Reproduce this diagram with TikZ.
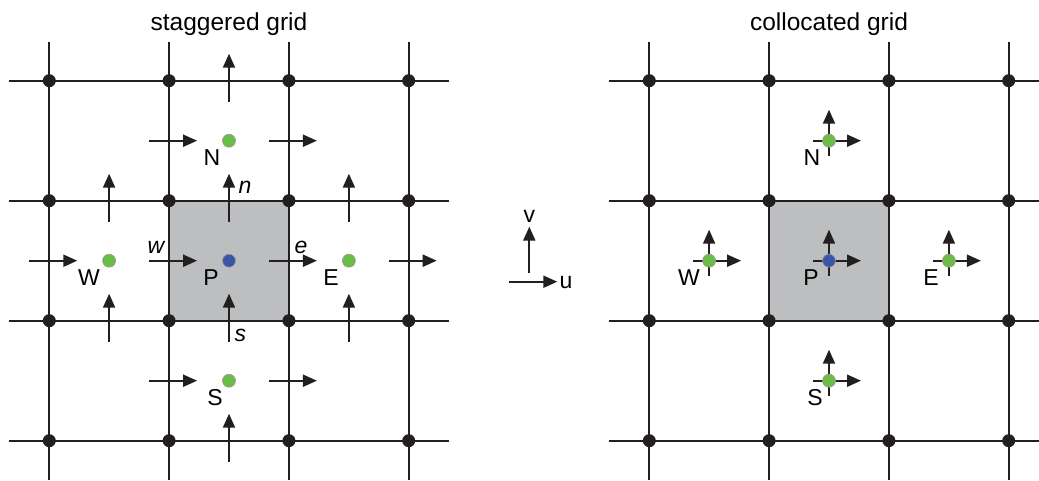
\documentclass[tikz,border=0pt]{standalone}
\usepackage{fontspec}
\setmainfont{Liberation Sans}
\usetikzlibrary{arrows.meta}
\definecolor{ink}{HTML}{231F20}
\definecolor{cellgray}{HTML}{BCBEC0}
\definecolor{ptgreen}{HTML}{6ABD45}
\definecolor{ptblue}{HTML}{3A55A5}
\begin{document}
\begin{tikzpicture}[x=1pt,y=-1pt,
  gridline/.style={ink, line width=2.1pt},
  vec/.style={ink, line width=2pt, -{Triangle[length=14pt,width=12pt]}},
  gnode/.style={circle, fill=ink, inner sep=0pt, minimum size=13pt},
  cpt/.style={circle, draw=black!40, line width=0.6pt, inner sep=0pt, minimum size=13pt},
  lbl/.style={font=\fontsize{23}{27}\selectfont, inner sep=0pt, anchor=base east},
  ilbl/.style={font=\fontsize{23}{27}\selectfont\itshape, inner sep=0pt, anchor=base west},
  ttl/.style={font=\fontsize{24.5}{29}\selectfont, inner sep=0pt, anchor=base}]
\useasboundingbox (0,0) rectangle (1039,480);

% ---------------- titles
\node[ttl] (t1) at (229,30.7) {staggered grid};
\node[ttl] (t2) at (829,30.7) {collocated grid};

% ---------------- staggered grid
\filldraw[fill=cellgray, draw=ink, line width=2.1pt] (169.1,200.7) rectangle (288.9,320.7);
\foreach \i in {0,...,3} {
  \draw[gridline] ({49.3+119.8*\i},41.7) -- ({49.3+119.8*\i},480);
  \draw[gridline] (9.3,{80.7+120*\i}) -- (448.7,{80.7+120*\i});
}
\foreach \i in {0,...,3} \foreach \j in {0,...,3}
  \node[gnode] (sg-\i-\j) at ({49.3+119.8*\i},{80.7+120*\j}) {};

% vertical face arrows (v)
\foreach \x/\f in {229/80.7, 229/200.7, 229/320.7, 229/440.7,
                   109.1/200.7, 109.1/320.7, 348.9/200.7, 348.9/320.7} {
  \coordinate (va) at (\x,{\f+21});
  \coordinate (vb) at (\x,{\f-27});
  \draw[vec] (va) -- (vb);
}
% horizontal face arrows (u)
\foreach \f/\y in {169.1/140.7, 288.9/140.7, 49.3/260.7, 169.1/260.7,
                   288.9/260.7, 408.7/260.7, 169.1/380.7, 288.9/380.7} {
  \coordinate (ha) at ({\f-20},\y);
  \coordinate (hb) at ({\f+28},\y);
  \draw[vec] (ha) -- (hb);
}
% cell centres
\node[cpt, fill=ptgreen] (sN) at (229,140.7) {};
\node[cpt, fill=ptgreen] (sS) at (229,380.7) {};
\node[cpt, fill=ptgreen] (sW) at (109.1,260.7) {};
\node[cpt, fill=ptgreen] (sE) at (348.9,260.7) {};
\node[cpt, fill=ptblue]  (sP) at (229,260.7) {};
\node[lbl] (lsN) at (220.5,165) {N};
\node[lbl] (lsW) at (100,285) {W};
\node[lbl] (lsP) at (219,285) {P};
\node[lbl] (lsE) at (339,285) {E};
\node[lbl] (lsS) at (223,405) {S};
\node[ilbl] (ln) at (238.5,193) {n};
\node[ilbl] (ls) at (234.5,341.7) {s};
\node[ilbl] (lw) at (147.5,253) {w};
\node[ilbl] (le) at (294.5,253) {e};

% ---------------- legend
\coordinate (lv0) at (529.3,273.3);
\coordinate (lv1) at (529.3,226.7);
\coordinate (lu0) at (509.3,281.7);
\coordinate (lu1) at (557.3,281.7);
\draw[vec] (lv0) -- (lv1);
\draw[vec] (lu0) -- (lu1);
\node[font=\fontsize{23}{27}\selectfont, inner sep=0pt, anchor=base] (lgv) at (529.3,222) {v};
\node[font=\fontsize{23}{27}\selectfont, inner sep=0pt, anchor=base] (lgu) at (566,288) {u};

% ---------------- collocated grid
\filldraw[fill=cellgray, draw=ink, line width=2.1pt] (769.1,200.7) rectangle (888.9,320.7);
\foreach \i in {0,...,3} {
  \draw[gridline] ({649.3+119.8*\i},41.7) -- ({649.3+119.8*\i},480);
  \draw[gridline] (609.3,{80.7+120*\i}) -- (1039,{80.7+120*\i});
}
\foreach \i in {0,...,3} \foreach \j in {0,...,3}
  \node[gnode] (cg-\i-\j) at ({649.3+119.8*\i},{80.7+120*\j}) {};

\foreach \nm/\cx/\cy/\col in {N/829/140.7/ptgreen, S/829/380.7/ptgreen,
                              W/709.1/260.7/ptgreen, E/948.9/260.7/ptgreen,
                              P/829/260.7/ptblue} {
  \coordinate (c\nm-h0) at ({\cx-16},\cy);
  \coordinate (c\nm-h1) at ({\cx+32},\cy);
  \coordinate (c\nm-v0) at (\cx,{\cy+15});
  \coordinate (c\nm-v1) at (\cx,{\cy-31});
  \draw[vec] (c\nm-h0) -- (c\nm-h1);
  \draw[vec] (c\nm-v0) -- (c\nm-v1);
  \node[cpt, fill=\col] (c\nm) at (\cx,\cy) {};
}
\node[lbl] (lcN) at (820.5,165) {N};
\node[lbl] (lcW) at (700,285) {W};
\node[lbl] (lcP) at (819,285) {P};
\node[lbl] (lcE) at (939,285) {E};
\node[lbl] (lcS) at (823,405) {S};
\end{tikzpicture}
\end{document}
